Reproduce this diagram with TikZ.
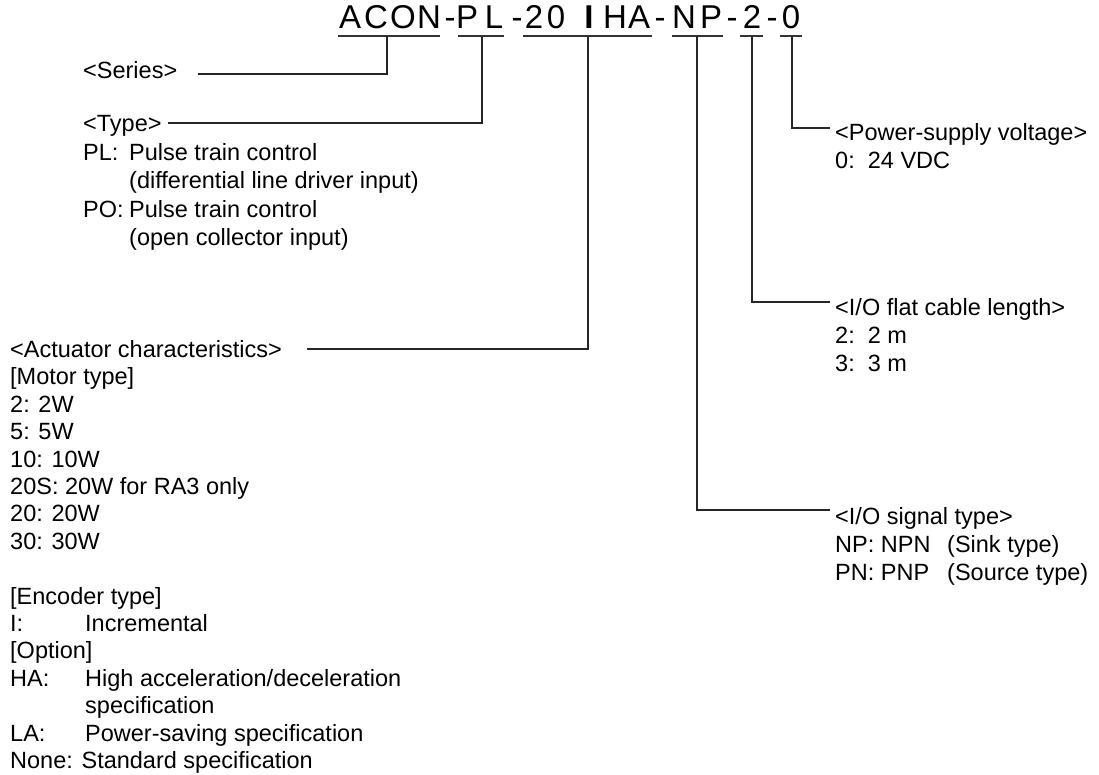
\documentclass[tikz,border=0pt]{standalone}
\usepackage{fontspec}
\setmainfont{Liberation Sans}
\newcommand{\blk}[1]{\begin{tabular}[t]{@{}l@{}}#1\end{tabular}}
\begin{document}
\begin{tikzpicture}[x=1pt,y=-1pt,
  lbl/.style={anchor=base west,inner sep=0pt,font=\fontsize{23.5}{28}\selectfont},
  typ/.style={anchor=base west,inner sep=0pt,font=\fontsize{23.5}{28.5}\selectfont},
  act/.style={anchor=base west,inner sep=0pt,font=\fontsize{23.5}{27.4}\selectfont},
  tch/.style={anchor=base,inner sep=0pt,font=\fontsize{33}{36}\selectfont},
  conn/.style={draw=black!85,line width=1.1pt},
  uline/.style={draw=black!80,line width=1.3pt}]
\useasboundingbox (0,0) rectangle (1099,774);
% title characters
\foreach \c/\x [count=\i] in {A/350,C/376,O/403,N/429,-/450,P/467,L/494,-/517,2/534,0/556}
  \node[tch] (t\i) at (\x,28) {\c};
\node[tch,font=\fontsize{33}{36}\selectfont\bfseries] (tI) at (589,28) {I};
\foreach \c/\x [count=\i from 11] in {H/615,A/639,-/660,N/684,P/711,-/732,2/752,-/772,0/791}
  \node[tch] (t\i) at (\x,28) {\c};
% underlines
\coordinate (u1a) at (338,36); \coordinate (u1b) at (440,36);
\coordinate (u2a) at (458,36); \coordinate (u2b) at (504,36);
\coordinate (u3a) at (523,36); \coordinate (u3b) at (652,36);
\coordinate (u4a) at (672,36); \coordinate (u4b) at (723,36);
\coordinate (u5a) at (740,36); \coordinate (u5b) at (763,36);
\coordinate (u6a) at (780,36); \coordinate (u6b) at (802,36);
\foreach \k in {1,...,6} \draw[uline] (u\k a) -- (u\k b);
% drop points
\coordinate (dS) at (387,36);
\coordinate (dT) at (482,36);
\coordinate (dA) at (588,36);
\coordinate (dN) at (697,36);
\coordinate (dC) at (752,36);
\coordinate (dP) at (792,36);
% line ends
\coordinate (eS) at (198,74);
\coordinate (eT) at (168,123);
\coordinate (eA) at (307,349);
\coordinate (eP) at (830,128);
\coordinate (eC) at (830,302);
\coordinate (eN) at (830,510);
% labels
\node[lbl] (series) at (83,78.5) {<Series>};
\node[typ] (type) at (83,131.5) {\blk{<Type>\\
\makebox[46pt][l]{PL:}Pulse train control\\
\hspace*{46pt}(differential line driver input)\\
\makebox[46pt][l]{PO:}Pulse train control\\
\hspace*{46pt}(open collector input)}};
\node[act] (actu) at (10,357.5) {\blk{<Actuator characteristics>\\
{[Motor type]}\\
2: 2W\\
5: 5W\\
10: 10W\\
20S: 20W for RA3 only\\
20: 20W\\
30: 30W\\
\mbox{}\\
{[Encoder type]}\\
\makebox[75pt][l]{I:}Incremental\\
{[Option]}\\
\makebox[75pt][l]{HA:}High acceleration/deceleration\\
\hspace*{75pt}specification\\
\makebox[75pt][l]{LA:}Power-saving specification\\
None: Standard specification}};
\node[lbl] (power) at (835,140.5) {\blk{<Power-supply voltage>\\0:\ \ 24 VDC}};
\node[lbl] (cable) at (835,315.5) {\blk{<I/O flat cable length>\\2:\ \ 2 m\\3:\ \ 3 m}};
\node[lbl] (signal) at (835,524.5) {\blk{<I/O signal type>\\
\makebox[112pt][l]{NP: NPN}(Sink type)\\
\makebox[112pt][l]{PN: PNP}(Source type)}};
% connectors
\draw[conn] (dS) |- (eS);
\draw[conn] (dT) |- (eT);
\draw[conn] (dA) |- (eA);
\draw[conn] (dP) |- (eP);
\draw[conn] (dC) |- (eC);
\draw[conn] (dN) |- (eN);
\end{tikzpicture}
\end{document}
